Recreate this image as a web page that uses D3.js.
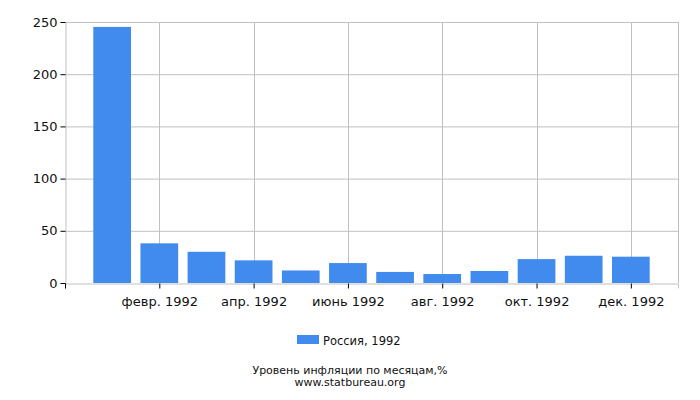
<!DOCTYPE html>
<html>
<head>
<meta charset="utf-8">
<script src="https://cdn.jsdelivr.net/npm/d3@7"></script>
<style>
  body { margin: 0; background: #fff; }
  text { font-family: "DejaVu Sans", sans-serif; fill: #111; }
</style>
</head>
<body>
<div id="chart"></div>
<script>
// monthly inflation, Russia 1992
const months = ["янв. 1992", "февр. 1992", "март 1992", "апр. 1992", "май 1992", "июнь 1992",
  "июль 1992", "авг. 1992", "сент. 1992", "окт. 1992", "нояб. 1992", "дек. 1992"];
const values = [245.3, 38.0, 29.9, 21.7, 12.0, 19.1, 10.6, 8.6, 11.5, 22.9, 26.1, 25.2];
const yTicks = [0, 50, 100, 150, 200, 250];
const seriesName = "Россия, 1992";
const title = "Уровень инфляции по месяцам,%";
const source = "www.statbureau.org";

const width = 700, height = 400;
const margin = { top: 22, right: 22, bottom: 117, left: 65 };
const color = "#428bee";

const svg = d3.select("#chart").append("svg")
  .attr("width", width)
  .attr("height", height);

// month slot index: 0 = dec 1991, 1..12 = 1992, 13 = jan 1993
const x = d3.scaleLinear().domain([0, 13]).range([margin.left, width - margin.right]);
const y = d3.scaleLinear().domain([0, 250]).range([height - margin.bottom, margin.top]);
const slot = x(1) - x(0);
const barW = slot * 0.8;

// grid
svg.append("g")
  .selectAll("line.h")
  .data(yTicks.slice(1))
  .enter().append("line")
  .attr("x1", x(0)).attr("x2", x(13))
  .attr("y1", d => y(d) + 0.5).attr("y2", d => y(d) + 0.5)
  .attr("stroke", "#c0c0c0");

const xTickIdx = [2, 4, 6, 8, 10, 12];
svg.append("g")
  .selectAll("line.v")
  .data(xTickIdx.concat([13]))
  .enter().append("line")
  .attr("x1", d => Math.round(x(d)) + 0.5).attr("x2", d => Math.round(x(d)) + 0.5)
  .attr("y1", y(250)).attr("y2", y(0))
  .attr("stroke", "#c0c0c0");

// bars
svg.append("g")
  .selectAll("rect")
  .data(values)
  .enter().append("rect")
  .attr("x", (d, i) => x(i + 1) - barW / 2)
  .attr("width", barW)
  .attr("y", d => y(d))
  .attr("height", d => y(0) - y(d))
  .attr("fill", color);

// y axis
const yAxis = svg.append("g")
  .attr("transform", `translate(${x(0) + 0.5},0)`)
  .call(d3.axisLeft(y).tickValues(yTicks).tickSize(5).tickPadding(3));
yAxis.select(".domain").attr("stroke", "#c0c0c0");
yAxis.selectAll(".tick line").attr("stroke", "#000");
yAxis.selectAll(".tick text").style("font-size", "13px");

// x axis
const xAxis = svg.append("g")
  .attr("transform", `translate(0,${y(0) + 0.5})`)
  .call(d3.axisBottom(x).tickValues([0].concat(xTickIdx)).tickSize(5).tickPadding(8)
    .tickFormat(d => d === 0 ? "" : months[d - 1]));
xAxis.select(".domain").attr("stroke", "#c0c0c0");
xAxis.selectAll(".tick line").attr("stroke", "#000");
xAxis.selectAll(".tick text").style("font-size", "13px");

// legend
const legend = svg.append("g").attr("transform", "translate(297,335)");
legend.append("rect").attr("width", 22).attr("height", 9).attr("fill", color);
legend.append("text").attr("x", 26).attr("y", 9.5).style("font-size", "11.5px").text(seriesName);

// footer
svg.append("text").attr("x", 350).attr("y", 374).attr("text-anchor", "middle")
  .style("font-size", "11px").text(title);
svg.append("text").attr("x", 350).attr("y", 386).attr("text-anchor", "middle")
  .style("font-size", "11px").text(source);
</script>
</body>
</html>
